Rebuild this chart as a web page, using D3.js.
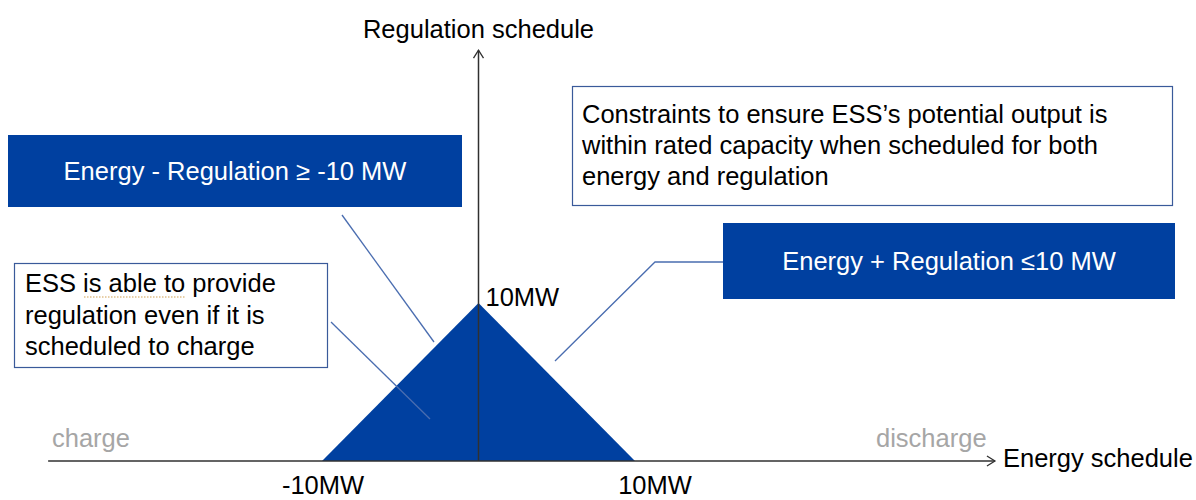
<!DOCTYPE html>
<html>
<head>
<meta charset="utf-8">
<script src="https://cdn.jsdelivr.net/npm/d3@7"></script>
<style>
  html, body { margin: 0; padding: 0; background: #fff; }
  svg { display: block; font-family: "Liberation Sans", Arial, sans-serif; }
</style>
</head>
<body>
<svg id="chart" width="1196" height="500"></svg>
<script>
// ---- data ----
const energyMW = [-10, 0, 10];          // triangle vertices (energy schedule)
const regulationMW = [0, 10, 0];        // triangle vertices (regulation schedule)
const energyAxisExtent = [-27.5, 33];
const regulationAxisExtent = [0, 26];
const energyTickValues = [-10, 10];
const energyTickLabels = ["-10MW", "10MW"];
const regulationTickValues = [10];
const regulationTickLabels = ["10MW"];
const axisTitles = ["Energy schedule", "Regulation schedule"];
const directionLabels = ["charge", "discharge"];
const constraintLabels = ["Energy - Regulation \u2265 -10 MW", "Energy + Regulation \u226410 MW"];
const noteLeft = ["ESS is able to provide", "regulation even if it is", "scheduled to charge"];
const noteRight = ["Constraints to ensure ESS\u2019s potential output is", "within rated capacity when scheduled for both", "energy and regulation"];

// ---- setup ----
const svg = d3.select("#chart");
const x = d3.scaleLinear().domain([-10, 10]).range([322, 635]);
const y = d3.scaleLinear().domain([0, 10]).range([461, 303]);

const BLUE = "#0040a0";
const LEADER = "#4a6db0";
const BORDER = "#3a5a9a";
const FS = 25.5;

// triangle
const pts = energyMW.map((e, i) => [x(e), y(regulationMW[i])]);
svg.append("path")
  .attr("d", d3.line()(pts) + "Z")
  .attr("fill", BLUE);

// axes
const axisColor = "#303030";
const x0 = x(energyAxisExtent[0]), x1 = x(energyAxisExtent[1]);
const yTop = y(regulationAxisExtent[1]);
svg.append("line").attr("x1", x0).attr("x2", x1).attr("y1", y(0)).attr("y2", y(0))
  .attr("stroke", axisColor).attr("stroke-width", 1.5);
svg.append("path").attr("d", `M${x1 - 8},${y(0) - 5}L${x1},${y(0)}L${x1 - 8},${y(0) + 5}`)
  .attr("fill", "none").attr("stroke", axisColor).attr("stroke-width", 1.3);
svg.append("line").attr("x1", x(0)).attr("x2", x(0)).attr("y1", y(0)).attr("y2", yTop)
  .attr("stroke", axisColor).attr("stroke-width", 1.5);
svg.append("path").attr("d", `M${x(0) - 5},${yTop + 8}L${x(0)},${yTop}L${x(0) + 5},${yTop + 8}`)
  .attr("fill", "none").attr("stroke", axisColor).attr("stroke-width", 1.3);

// axis titles
svg.append("text").attr("x", x1 + 8).attr("y", y(0) + 6).attr("font-size", FS).attr("fill", "#000")
  .text(axisTitles[0]);
svg.append("text").attr("x", x(0)).attr("y", 38).attr("text-anchor", "middle")
  .attr("font-size", FS).attr("fill", "#000").text(axisTitles[1]);

// tick labels
svg.selectAll(".etick").data(energyTickValues).enter().append("text")
  .attr("x", (d) => x(d) + (d < 0 ? 1 : 20)).attr("y", 494)
  .attr("text-anchor", "middle").attr("font-size", FS).attr("fill", "#000")
  .text((d, i) => energyTickLabels[i]);
svg.selectAll(".rtick").data(regulationTickValues).enter().append("text")
  .attr("x", x(0) + 7).attr("y", y(10) + 3)
  .attr("font-size", FS).attr("fill", "#000")
  .text((d, i) => regulationTickLabels[i]);

// charge / discharge
svg.append("text").attr("x", 52).attr("y", 447).attr("font-size", FS).attr("fill", "#a6a6a6").text(directionLabels[0]);
svg.append("text").attr("x", 876).attr("y", 447).attr("font-size", FS).attr("fill", "#a6a6a6").text(directionLabels[1]);

// leader lines
const leader = (d) => svg.append("path").attr("d", d).attr("fill", "none")
  .attr("stroke", LEADER).attr("stroke-width", 1.3);
leader("M342,215L434,342");
leader("M331,322L430,419");
leader("M555,361L655,262L723,262");

// blue constraint boxes
svg.append("rect").attr("x", 8).attr("y", 135).attr("width", 454).attr("height", 72).attr("fill", BLUE);
svg.append("text").attr("x", 235).attr("y", 180).attr("text-anchor", "middle")
  .attr("font-size", FS).attr("fill", "#fff").text(constraintLabels[0]);
svg.append("rect").attr("x", 723).attr("y", 223).attr("width", 452).attr("height", 76).attr("fill", BLUE);
svg.append("text").attr("x", 949).attr("y", 270).attr("text-anchor", "middle")
  .attr("font-size", FS).attr("fill", "#fff").text(constraintLabels[1]);

// white note boxes
svg.append("rect").attr("x", 14.5).attr("y", 263.5).attr("width", 313).attr("height", 104)
  .attr("fill", "#fff").attr("stroke", BORDER).attr("stroke-width", 1.2);
svg.selectAll(".nl").data(noteLeft).enter().append("text")
  .attr("x", 25).attr("y", (d, i) => 292 + i * 31.5)
  .attr("font-size", FS).attr("fill", "#000").text((d) => d);
svg.append("line").attr("x1", 84).attr("x2", 186).attr("y1", 297).attr("y2", 297)
  .attr("stroke", "#d0a050").attr("stroke-width", 1.2).attr("stroke-dasharray", "1.5,1.5");

svg.append("rect").attr("x", 572.5).attr("y", 86.5).attr("width", 600).attr("height", 119)
  .attr("fill", "#fff").attr("stroke", BORDER).attr("stroke-width", 1.2);
svg.selectAll(".nr").data(noteRight).enter().append("text")
  .attr("x", 582).attr("y", (d, i) => 123 + i * 31)
  .attr("font-size", FS).attr("fill", "#000").text((d) => d);
</script>
</body>
</html>
